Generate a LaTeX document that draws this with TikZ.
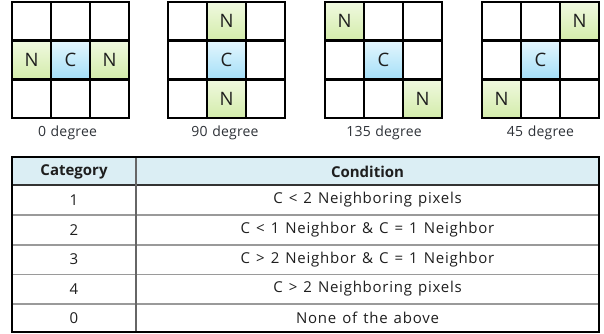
\documentclass[tikz,border=0pt]{standalone}
\usepackage{fontspec}
\setmainfont{Open Sans}
\newfontfamily\tabfont{Open Sans}[LetterSpace=5, WordSpace=1.3]
\newfontfamily\lblfont{Open Sans}[LetterSpace=1.5, WordSpace=1.2]
\definecolor{ngTop}{HTML}{F0F9E0}
\definecolor{ngBot}{HTML}{D3ECAA}
\definecolor{cTop}{HTML}{E4F6FD}
\definecolor{cBot}{HTML}{A4DFF8}
\definecolor{hdrFill}{HTML}{DBEEF4}
\definecolor{rowGray}{HTML}{9A9A9A}
\definecolor{txtDark}{HTML}{1E1E1E}
\definecolor{lblDark}{HTML}{2E3238}
\def\celltxt{}
\tikzset{
  cell/.style={draw=black, line width=2.6pt, minimum width=39pt, minimum height=38.7pt,
    inner sep=0pt, anchor=center, text=txtDark, font=\fontsize{18.5}{18.5}\selectfont},
  wcell/.style={cell, fill=white, /utils/exec={\gdef\celltxt{}}},
  ncell/.style={cell, top color=ngTop, bottom color=ngBot, /utils/exec={\gdef\celltxt{N}}},
  ccell/.style={cell, top color=cTop, bottom color=cBot, /utils/exec={\gdef\celltxt{C}}},
  deglabel/.style={text=lblDark, font=\lblfont\fontsize{14}{14}\selectfont, inner sep=0pt},
  tabtext/.style={text=txtDark, font=\tabfont\fontsize{15}{15}\selectfont, inner sep=0pt},
  tabhead/.style={text=txtDark, font=\fontsize{15}{15}\selectfont\bfseries, inner sep=0pt},
  rowline/.style={draw=rowGray, line width=1.4pt},
  headline/.style={draw=black!80, line width=1.8pt},
  colline/.style={draw=black!60, line width=1.4pt},
  outline/.style={draw=black, line width=2.6pt},
}
\newcommand\pixgrid[5]{%
  \foreach \t [count=\i from 0] in {#3} {
    \pgfmathtruncatemacro\rr{\i/3}
    \pgfmathtruncatemacro\cc{\i-3*\rr}
    \node[\t cell] (#1-\rr\cc) at ({#2+19.5+39*\cc},{2+19.35+38.7*\rr}) {\celltxt};
  }
  \node[deglabel] (#1-lab) at (#5,133) {#4};
}
\begin{document}
\begin{tikzpicture}[x=1pt,y=-1pt]
\useasboundingbox (0,0) rectangle (604,333);
\pixgrid{ga}{12}{w,w,w,n,c,n,w,w,w}{0 degree}{67.5}
\pixgrid{gb}{168}{w,n,w,w,c,w,w,n,w}{90 degree}{225}
\pixgrid{gc}{325}{n,w,w,w,c,w,w,w,n}{135 degree}{384}
\pixgrid{gd}{482}{w,w,n,w,c,w,n,w,w}{45 degree}{540.5}
% table
\fill[hdrFill] (12,157) rectangle (599,185);
\foreach \yy in {215,245,274.5,304} \draw[rowline] (12,\yy) -- (599,\yy);
\draw[headline] (12,185) -- (599,185);
\draw[colline] (136,157) -- (136,332);
\draw[outline] (12,157) rectangle (599,332);
\node[tabhead] (hcat) at (74,171.5) {Category};
\node[tabhead] (hcond) at (367.5,171.5) {Condition};
\foreach \cat/\cond/\yy [count=\k] in {
  1/{C < 2 Neighboring pixels}/200,
  2/{C < 1 Neighbor \& C = 1 Neighbor}/230,
  3/{C > 2 Neighbor \& C = 1 Neighbor}/259.5,
  4/{C > 2 Neighboring pixels}/289,
  0/{None of the above}/318} {
  \node[tabtext] (cat\k) at (74,\yy) {\cat};
  \node[tabtext] (cond\k) at (367.5,\yy) {\cond};
}
\end{tikzpicture}
\end{document}
